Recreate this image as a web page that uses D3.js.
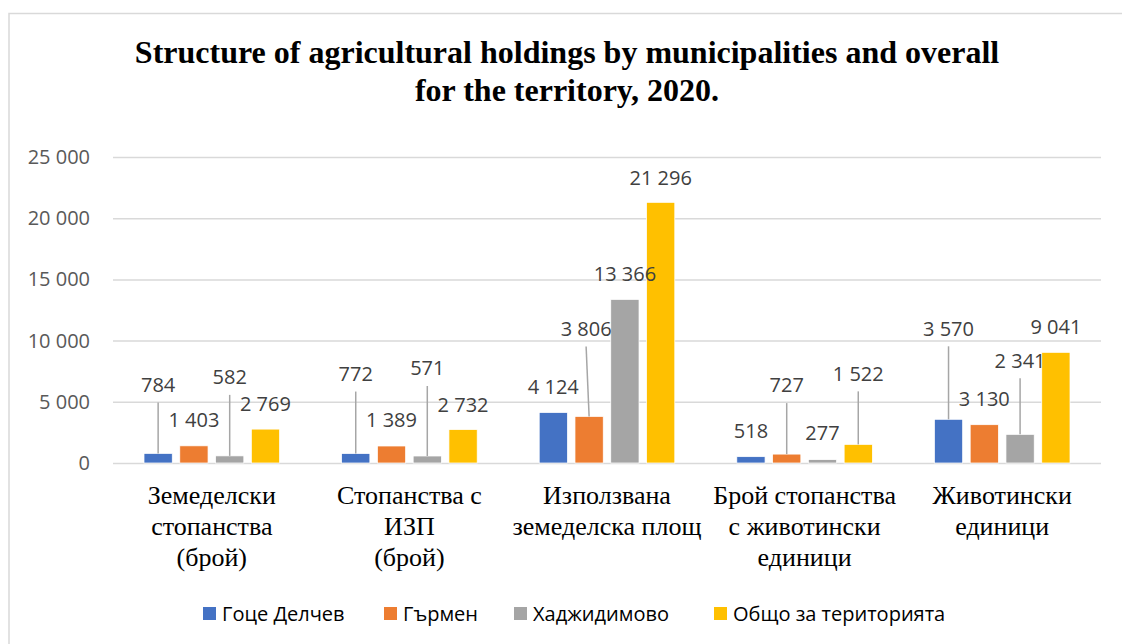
<!DOCTYPE html>
<html>
<head>
<meta charset="utf-8">
<script src="https://cdn.jsdelivr.net/npm/d3@7"></script>
<style>
  html, body { margin: 0; padding: 0; background: #fff; }
  svg { display: block; }
</style>
</head>
<body>
<svg id="chart" width="1122" height="644"></svg>
<script>
// ---------------- DATA ----------------
const titleLines = ["Structure of agricultural holdings by municipalities and overall", "for the territory, 2020."];
const categories = [
  ["Земеделски", "стопанства", "(брой)"],
  ["Стопанства с", "ИЗП", "(брой)"],
  ["Използвана", "земеделска площ"],
  ["Брой стопанства", "с животински", "единици"],
  ["Животински", "единици"]
];
const seriesNames = ["Гоце Делчев", "Гърмен", "Хаджидимово", "Общо за територията"];
const goceDelchev  = [784, 772, 4124, 518, 3570];
const garmen       = [1403, 1389, 3806, 727, 3130];
const hadzhidimovo = [582, 571, 13366, 277, 2341];
const total        = [2769, 2732, 21296, 1522, 9041];
const yTicks = [0, 5000, 10000, 15000, 20000, 25000];

// ---------------- STYLE / LAYOUT ----------------
const colors = ["#4472C4", "#ED7D31", "#A5A5A5", "#FFC000"];
// label lift above bar top (px) per series x category (manual label placement as in original)
const labelLift = [
  [69, 80, 26, 26, 91],
  [26, 26, 88, 69, 26],
  [79, 88, 26, 27, 74],
  [25, 25, 25, 71, 26]
];
const labelDx = [
  [0, 0, 0, 0, 0],
  [0, 0, -3, 0, 0],
  [0, 0, 0, 0, 0],
  [0, 0, 0, 0, 0]
];

const seriesValues = [goceDelchev, garmen, hadzhidimovo, total];
const svg = d3.select("#chart");
const W = 1122, H = 644;

// border
svg.append("rect").attr("x", 9).attr("y", 13.5).attr("width", W + 20).attr("height", H + 20)
  .attr("fill", "#fff").attr("stroke", "#d9d9d9").attr("stroke-width", 1.5);

const plot = { left: 113, right: 1101, top: 157, bottom: 463 };

const fmt = d3.formatLocale({ decimal: ",", thousands: " ", grouping: [3], currency: ["", ""] }).format(",d");

const y = d3.scaleLinear().domain([0, 25000]).range([plot.bottom, plot.top]);
const x0 = d3.scaleBand().domain(d3.range(categories.length)).range([plot.left, plot.right]).padding(0);
const x1 = d3.scaleBand().domain(d3.range(seriesNames.length))
  .range([31, x0.bandwidth() - 31]).paddingInner(0.21);

// title
svg.append("g").selectAll("text").data(titleLines).join("text")
  .attr("x", 567).attr("y", (d, i) => 63 + i * 38)
  .attr("text-anchor", "middle")
  .attr("font-family", "Liberation Serif, Times New Roman, serif")
  .attr("font-weight", "bold").attr("font-size", 32).attr("fill", "#000")
  .text(d => d);

// gridlines + y axis
const yAxis = d3.axisLeft(y).tickValues(yTicks).tickFormat(fmt)
  .tickSize(-(plot.right - plot.left)).tickPadding(23);
const gy = svg.append("g").attr("transform", `translate(${plot.left},0)`).call(yAxis);
gy.select(".domain").remove();
gy.selectAll(".tick line").attr("stroke", "#d9d9d9").attr("stroke-width", 1.5);
gy.selectAll(".tick text").attr("font-family", "Open Sans, sans-serif").attr("font-size", 20)
  .attr("fill", "#595959");

// bars
const groups = svg.append("g").selectAll("g").data(categories).join("g")
  .attr("transform", (d, i) => `translate(${x0(i)},0)`);

groups.each(function(cat, ci) {
  const g = d3.select(this);
  const items = seriesValues.map((vals, si) => ({ si, ci, v: vals[ci] }));
  g.selectAll("rect").data(items).join("rect")
    .attr("x", d => x1(d.si)).attr("width", x1.bandwidth())
    .attr("y", d => y(d.v)).attr("height", d => y(0) - y(d.v))
    .attr("fill", d => colors[d.si]).attr("stroke", "#fff").attr("stroke-width", 0.75);

  // leader lines
  g.selectAll("line.leader").data(items.filter(d => labelLift[d.si][d.ci] > 40)).join("line")
    .attr("class", "leader")
    .attr("x1", d => x1(d.si) + x1.bandwidth() / 2 + labelDx[d.si][d.ci])
    .attr("x2", d => x1(d.si) + x1.bandwidth() / 2)
    .attr("y1", d => y(d.v) - labelLift[d.si][d.ci] + 18)
    .attr("y2", d => y(d.v))
    .attr("stroke", "#a6a6a6").attr("stroke-width", 1.5);

  // labels
  g.selectAll("text.lbl").data(items).join("text")
    .attr("class", "lbl")
    .attr("x", d => x1(d.si) + x1.bandwidth() / 2 + labelDx[d.si][d.ci])
    .attr("y", d => y(d.v) - labelLift[d.si][d.ci])
    .attr("dy", "0.36em")
    .attr("text-anchor", "middle")
    .attr("font-family", "Open Sans, sans-serif").attr("font-size", 20).attr("fill", "#404040")
    .text(d => fmt(d.v));

  // category labels
  g.append("text")
    .attr("text-anchor", "middle")
    .attr("font-family", "Liberation Serif, Times New Roman, serif")
    .attr("font-size", 26).attr("fill", "#000")
    .selectAll("tspan").data(cat).join("tspan")
    .attr("x", x0.bandwidth() / 2).attr("y", (d, i) => 504 + i * 31)
    .text(d => d);
});

// legend
const legendX = [203, 384, 514, 714];
const lg = svg.append("g").selectAll("g").data(seriesNames).join("g")
  .attr("transform", (d, i) => `translate(${legendX[i]},607)`);
lg.append("rect").attr("width", 13).attr("height", 13).attr("fill", (d, i) => colors[i]);
lg.append("text").attr("x", 19).attr("y", 6.5).attr("dy", "0.36em")
  .attr("font-family", "Open Sans, sans-serif").attr("font-size", 20).attr("fill", "#000")
  .text(d => d);
</script>
</body>
</html>
